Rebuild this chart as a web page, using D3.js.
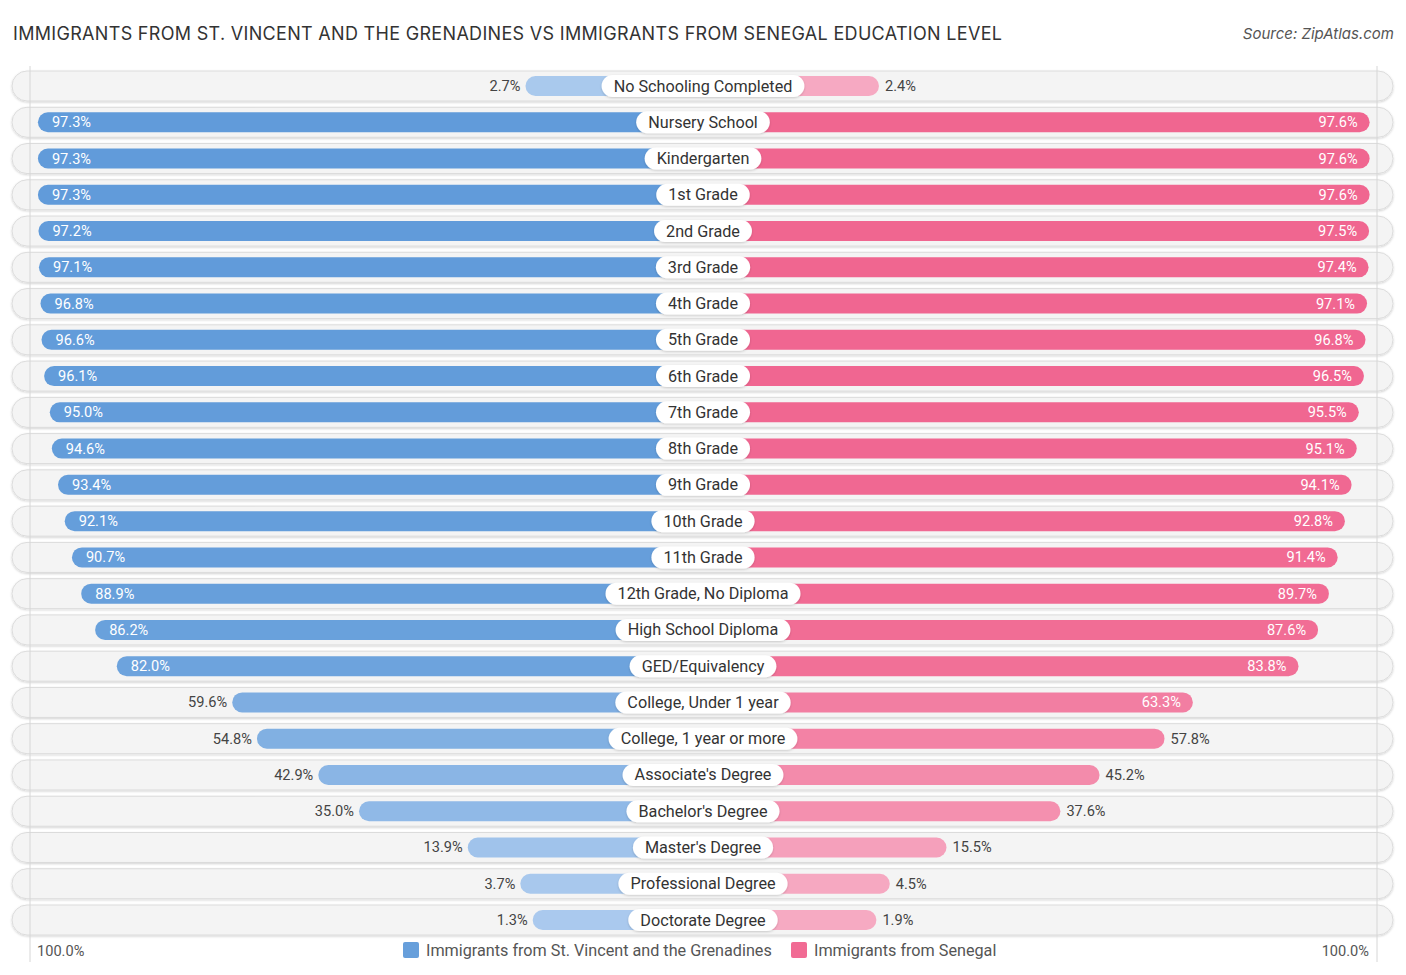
<!DOCTYPE html>
<html>
<head>
<meta charset="UTF-8" />
<script src="https://cdn.jsdelivr.net/npm/d3@7/dist/d3.min.js"></script>
<style>
  body { margin: 0; background: #fff; }
  text { font-family: Roboto, "Noto Sans", sans-serif; }
</style>
</head>
<body>
<div id="chart"></div>
<script>
const categories = [
  "No Schooling Completed", "Nursery School", "Kindergarten", "1st Grade", "2nd Grade",
  "3rd Grade", "4th Grade", "5th Grade", "6th Grade", "7th Grade", "8th Grade",
  "9th Grade", "10th Grade", "11th Grade", "12th Grade, No Diploma",
  "High School Diploma", "GED/Equivalency", "College, Under 1 year",
  "College, 1 year or more", "Associate's Degree", "Bachelor's Degree",
  "Master's Degree", "Professional Degree", "Doctorate Degree"
];
const stVincent = [2.7, 97.3, 97.3, 97.3, 97.2, 97.1, 96.8, 96.6, 96.1, 95.0, 94.6, 93.4,
  92.1, 90.7, 88.9, 86.2, 82.0, 59.6, 54.8, 42.9, 35.0, 13.9, 3.7, 1.3];
const senegal = [2.4, 97.6, 97.6, 97.6, 97.5, 97.4, 97.1, 96.8, 96.5, 95.5, 95.1, 94.1,
  92.8, 91.4, 89.7, 87.6, 83.8, 63.3, 57.8, 45.2, 37.6, 15.5, 4.5, 1.9];
const seriesNames = ["Immigrants from St. Vincent and the Grenadines", "Immigrants from Senegal"];
const axisLabels = ["100.0%", "100.0%"];

const W = 1406, H = 975, cx = 703;

const svg = d3.select("#chart").append("svg")
  .attr("width", W).attr("height", H)
  .attr("viewBox", [0, 0, W, H]);

const defs = svg.append("defs");
const sh = defs.append("filter").attr("id", "shadow")
  .attr("x", "-5%").attr("y", "-30%").attr("width", "110%").attr("height", "170%");
sh.append("feDropShadow").attr("dx", 0).attr("dy", 1).attr("stdDeviation", 1)
  .attr("flood-color", "#000").attr("flood-opacity", 0.18);

const y = d3.scalePoint().domain(categories).range([86, 920]);
// distance from centre line
const len = d3.scaleLinear().domain([0, 100]).range([163.6, 679]);

const blue = d3.scaleLinear().domain([0, 100]).range(["#abcaee", "#5f9ad9"]).interpolate(d3.interpolateRgb);
const pink = d3.scaleLinear().domain([0, 100]).range(["#f6abc3", "#f0648f"]).interpolate(d3.interpolateRgb);

// title + source
svg.append("text")
  .attr("x", 13).attr("y", 40)
  .attr("fill", "#333")
  .style("font-family", "Inter, 'Noto Sans', sans-serif")
  .style("font-size", "18px")
  .attr("textLength", 989)
  .text("IMMIGRANTS FROM ST. VINCENT AND THE GRENADINES VS IMMIGRANTS FROM SENEGAL EDUCATION LEVEL");

svg.append("text")
  .attr("x", 1394).attr("y", 39)
  .attr("text-anchor", "end")
  .attr("fill", "#555")
  .style("font-family", "Inter, 'Noto Sans', sans-serif")
  .style("font-style", "italic")
  .style("font-size", "15px")
  .text("Source: ZipAtlas.com");

// row backgrounds
const rows = svg.append("g");
rows.selectAll("rect")
  .data(categories)
  .join("rect")
  .attr("x", 12).attr("y", d => y(d) - 15)
  .attr("width", 1381).attr("height", 30)
  .attr("rx", 15)
  .attr("fill", "#f4f4f4")
  .attr("stroke", "#dcdcdc")
  .attr("stroke-width", 1)
  .attr("filter", "url(#shadow)");

// faint vertical guide lines
svg.append("g").selectAll("line")
  .data([cx - 673, cx + 674])
  .join("line")
  .attr("x1", d => d).attr("x2", d => d)
  .attr("y1", 66).attr("y2", 962)
  .attr("stroke", "#d6d6d6").attr("stroke-width", 1);

const data = categories.map((c, i) => ({ cat: c, a: stVincent[i], b: senegal[i] }));
const barH = 20;

// left bars
svg.append("g").selectAll("rect")
  .data(data)
  .join("rect")
  .attr("x", d => cx - len(d.a))
  .attr("y", d => y(d.cat) - barH / 2)
  .attr("width", d => len(d.a))
  .attr("height", barH)
  .attr("rx", barH / 2)
  .attr("fill", d => blue(d.a));

// right bars
svg.append("g").selectAll("rect")
  .data(data)
  .join("rect")
  .attr("x", cx)
  .attr("y", d => y(d.cat) - barH / 2)
  .attr("width", d => len(d.b))
  .attr("height", barH)
  .attr("rx", barH / 2)
  .attr("fill", d => pink(d.b));

const inside = v => v >= 60;

// value labels left
svg.append("g").selectAll("text")
  .data(data)
  .join("text")
  .attr("x", d => inside(d.a) ? cx - len(d.a) + 14 : cx - len(d.a) - 5)
  .attr("y", d => y(d.cat) + 5)
  .attr("text-anchor", d => inside(d.a) ? "start" : "end")
  .attr("fill", d => inside(d.a) ? "#fff" : "#444")
  .style("font-size", "14.6px")
  .text(d => d.a.toFixed(1) + "%");

// value labels right
svg.append("g").selectAll("text")
  .data(data)
  .join("text")
  .attr("x", d => inside(d.b) ? cx + len(d.b) - 12 : cx + len(d.b) + 6)
  .attr("y", d => y(d.cat) + 5)
  .attr("text-anchor", d => inside(d.b) ? "end" : "start")
  .attr("fill", d => inside(d.b) ? "#fff" : "#444")
  .style("font-size", "14.6px")
  .text(d => d.b.toFixed(1) + "%");

// category badges
const badge = svg.append("g").selectAll("g")
  .data(data)
  .join("g")
  .attr("transform", d => `translate(${cx},${y(d.cat)})`);

badge.append("text")
  .attr("text-anchor", "middle")
  .attr("y", 5.5)
  .attr("fill", "#333")
  .style("font-size", "16.2px")
  .text(d => d.cat);

badge.each(function() {
  const g = d3.select(this);
  const w = g.select("text").node().getComputedTextLength() + 24;
  g.insert("rect", "text")
    .attr("x", -w / 2).attr("y", -11)
    .attr("width", w).attr("height", 22)
    .attr("rx", 11)
    .attr("fill", "#fff")
    .attr("filter", "url(#shadow)");
});

// legend + bottom axis labels
const legend = svg.append("g");
const legendItems = [
  { name: seriesNames[0], color: blue(90), x: 403 },
  { name: seriesNames[1], color: pink(90), x: 791 }
];
const li = legend.selectAll("g").data(legendItems).join("g")
  .attr("transform", d => `translate(${d.x},942)`);
li.append("rect").attr("width", 16).attr("height", 16).attr("rx", 2).attr("fill", d => d.color);
li.append("text").attr("x", 23).attr("y", 14)
  .attr("fill", "#555").style("font-size", "16.2px").text(d => d.name);

legend.append("text").attr("x", 37).attr("y", 956)
  .attr("fill", "#555").style("font-size", "14.6px").text(axisLabels[0]);
legend.append("text").attr("x", 1369).attr("y", 956).attr("text-anchor", "end")
  .attr("fill", "#555").style("font-size", "14.6px").text(axisLabels[1]);
</script>
</body>
</html>
